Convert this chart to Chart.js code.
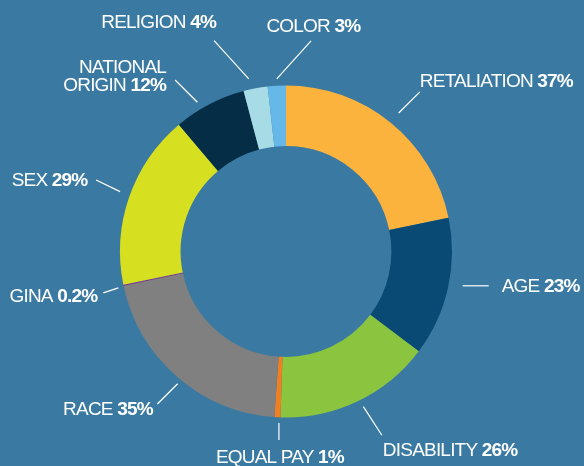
<!DOCTYPE html>
<html>
<head>
<meta charset="utf-8">
<script src="https://cdn.jsdelivr.net/npm/chart.js@4/dist/chart.umd.min.js"></script>
<style>
  html, body { margin: 0; padding: 0; background: #3a7aa2; }
  #wrap { width: 584px; height: 466px; }
</style>
</head>
<body>
<div id="wrap"><canvas id="c" width="584" height="466"></canvas></div>
<script>
// ---- data ----
const categories = ['RETALIATION', 'AGE', 'DISABILITY', 'EQUAL PAY', 'RACE', 'GINA', 'SEX', ['NATIONAL', 'ORIGIN'], 'RELIGION', 'COLOR'];
const percentValues = [37, 23, 26, 1, 35, 0.2, 29, 12, 4, 3];
const sliceColors = ['#fbb33d', '#084a73', '#8bc43f', '#f07f22', '#808080', '#93278f', '#d7df21', '#062d46', '#a7dce6', '#66b8e8'];

// ---- label placement (styling / layout only) ----
const labelLayout = [
  {gap: 12.5, delta: 0,    dir: 45,    len: 30,   align: 'left',   dx: 0,    dy: -5},
  {gap: 14,   delta: -1.6, dir: 90,    len: 26,   align: 'left',   dx: 13,   dy: 6},
  {gap: 7.4,  delta: -0.9, dir: 147,   len: 34,   align: 'left',   dx: 1,    dy: 21},
  {gap: 5.7,  delta: -0.6, dir: 180,   len: 17,   align: 'center', dx: 1,    dy: 23},
  {gap: 5,    delta: -1.7, dir: 225,   len: 28.6, align: 'right',  dx: -4.6, dy: 11},
  {gap: 5.6,  delta: -0.5, dir: 251.6, len: 15.8, align: 'right',  dx: -6,   dy: 9},
  {gap: 10.4, delta: 0.7,  dir: 296,   len: 26.7, align: 'right',  dx: -8.7, dy: 5.7},
  {gap: 7.6,  delta: -3.2, dir: 315,   len: 31.5, align: 'right',  dx: -9,   dy: -7.3},
  {gap: 10.5, delta: -1.6, dir: 317.8, len: 51.7, align: 'right',  dx: 2,    dy: -12.7},
  {gap: 6.8,  delta: 0.1,  dir: 42.1,  len: 51.2, align: 'center', dx: 2.3,  dy: -8.7}
];

const BG = '#3a7aa2';
const FONT_FAMILY = '"Liberation Sans", Arial, Helvetica, sans-serif';
const FONT_SIZE = 19;
const LINE_H = 18.3;

const bgPlugin = {
  id: 'bg',
  beforeDraw(chart) {
    const ctx = chart.ctx;
    ctx.save();
    ctx.fillStyle = BG;
    ctx.fillRect(0, 0, chart.width, chart.height);
    ctx.restore();
  }
};

function drawMixed(ctx, normal, bold, x, y, align) {
  ctx.font = FONT_SIZE + 'px ' + FONT_FAMILY;
  const wN = ctx.measureText(normal).width;
  ctx.font = 'bold ' + FONT_SIZE + 'px ' + FONT_FAMILY;
  const wB = bold ? ctx.measureText(bold).width : 0;
  const total = wN + wB;
  let sx = x;
  if (align === 'right') sx = x - total;
  else if (align === 'center') sx = x - total / 2;
  ctx.textAlign = 'left';
  ctx.font = FONT_SIZE + 'px ' + FONT_FAMILY;
  ctx.fillText(normal, sx, y);
  if (bold) {
    ctx.font = 'bold ' + FONT_SIZE + 'px ' + FONT_FAMILY;
    ctx.fillText(bold, sx + wN, y);
  }
}

const outerLabels = {
  id: 'outerLabels',
  afterDatasetsDraw(chart, args, opts) {
    const ctx = chart.ctx;
    const meta = chart.getDatasetMeta(0);
    const layout = opts.layout;
    ctx.save();
    if ('letterSpacing' in ctx) ctx.letterSpacing = '-0.8px';
    ctx.fillStyle = '#ffffff';
    ctx.strokeStyle = '#ffffff';
    ctx.lineWidth = 1.2;
    ctx.textBaseline = 'alphabetic';
    meta.data.forEach((arc, i) => {
      const p = arc.getProps(['x', 'y', 'startAngle', 'endAngle', 'outerRadius'], true);
      const L = layout[i];
      const mid = (p.startAngle + p.endAngle) / 2 + L.delta * Math.PI / 180;
      const r = p.outerRadius + L.gap;
      const x0 = p.x + r * Math.cos(mid);
      const y0 = p.y + r * Math.sin(mid);
      const d = L.dir * Math.PI / 180;
      const x1 = x0 + L.len * Math.sin(d);
      const y1 = y0 - L.len * Math.cos(d);
      ctx.beginPath();
      ctx.moveTo(x0, y0);
      ctx.lineTo(x1, y1);
      ctx.stroke();

      const name = chart.data.labels[i];
      const lines = Array.isArray(name) ? name : [name];
      const valText = percentValues[i] + '%';
      lines.forEach((ln, k) => {
        const isLast = k === lines.length - 1;
        drawMixed(ctx, isLast ? ln + ' ' : ln, isLast ? valText : '', x1 + L.dx, y1 + L.dy + k * LINE_H, L.align);
      });
    });
    ctx.restore();
  }
};

new Chart(document.getElementById('c'), {
  type: 'doughnut',
  data: {
    labels: categories,
    datasets: [{
      data: percentValues,
      backgroundColor: sliceColors,
      borderWidth: 0,
      hoverOffset: 0
    }]
  },
  options: {
    responsive: false,
    animation: false,
    cutout: '63.5%',
    layout: { padding: { top: 85.5, bottom: 48.5, left: 0, right: 12 } },
    plugins: {
      legend: { display: false },
      tooltip: { enabled: false },
      outerLabels: { layout: labelLayout }
    },
    events: []
  },
  plugins: [bgPlugin, outerLabels]
});
</script>
</body>
</html>
